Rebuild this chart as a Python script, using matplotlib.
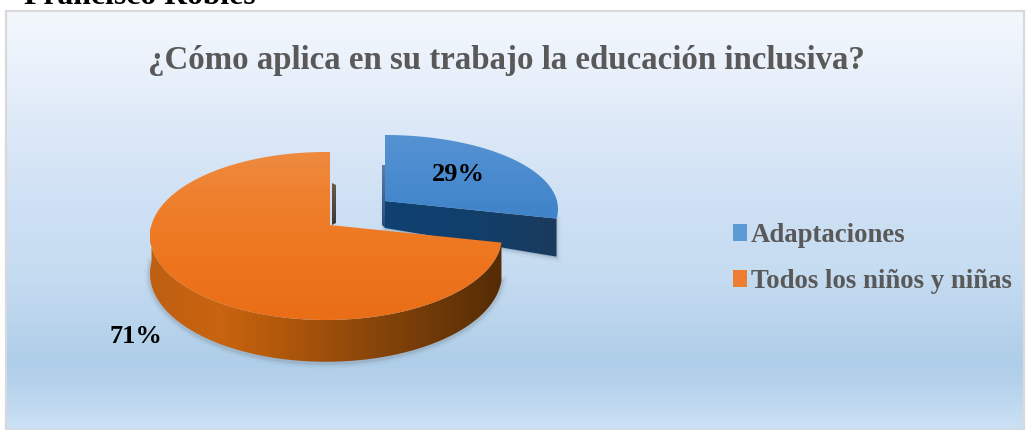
import numpy as np
import matplotlib
matplotlib.use("Agg")
import matplotlib.pyplot as plt
from matplotlib.colors import LinearSegmentedColormap as LSC
from matplotlib.patches import PathPatch, Patch, Rectangle
from matplotlib.path import Path

categories = ["Adaptaciones", "Todos los niños y niñas"]
shares = [29, 71]
title = "¿Cómo aplica en su trabajo la educación inclusiva?"
header = "Francisco Robles"

SERIF = "Liberation Serif"
W, H = 1027, 430
fig = plt.figure(figsize=(W / 100, H / 100), dpi=100, facecolor="white")
ax = fig.add_axes([0, 0, 1, 1])
ax.set_axis_off()


def grad(path, colors, vertical=True, z=2, bounds=None):
    x0, y0 = path.vertices.min(axis=0)
    x1, y1 = path.vertices.max(axis=0)
    if bounds is not None:
        y0, y1 = bounds
    data = np.linspace(0, 1, 256)
    data = data[:, None] if vertical else data[None, :]
    cmap = LSC.from_list("g", colors)
    im = ax.imshow(data, cmap=cmap, extent=(x0, x1, y1, y0), aspect="auto",
                   zorder=z, interpolation="bilinear", vmin=0, vmax=1)
    p = PathPatch(path, fc="none", ec="none", transform=ax.transData)
    ax.add_patch(p)
    im.set_clip_path(p)
    return im


def rim(theta, apex, off, rx, ry, k=0.4, xoff=0.0):
    """Point where the ray at angle theta (clockwise from the top) meets the tilted rim."""
    dx, dy = np.sin(theta), -k * np.cos(theta)
    a = (dx / rx) ** 2 + (dy / ry) ** 2
    b = -2 * dy * off / ry ** 2 - 2 * dx * xoff / rx ** 2
    c = (off / ry) ** 2 + (xoff / rx) ** 2 - 1
    t = (-b + np.sqrt(b * b - 4 * a * c)) / (2 * a)
    return np.array([apex[0] + t * dx, apex[1] + t * dy])


def arc(t0, t1, apex, off, rx, ry, xoff=0.0, n=160):
    return np.array([rim(t, apex, off, rx, ry, xoff=xoff) for t in np.linspace(t0, t1, n)])


def closed(pts):
    return Path(np.vstack([pts, pts[:1]]), closed=True)


# panel background
box = Rectangle((6, 11), 1018, 419, fc="none", ec="#D9D9D9", lw=1.6, zorder=5)
panel = Path([(6, 11), (1024, 11), (1024, 430), (6, 430), (6, 11)], closed=True)
bg = np.array([0, .08, .25, .45, .62, .84, .89, 1.0])
bg_c = ["#F4F8FD", "#EEF4FC", "#DFEAF8", "#CFE1F4", "#C6DCF1", "#AFCEE9", "#B5D2EC", "#CCE1F5"]
grad(panel, list(zip(bg, bg_c)), z=1)
ax.add_patch(box)

fracs = np.cumsum([0] + shares) / sum(shares) * 2 * np.pi
blue_t = (fracs[0], fracs[1])
or_t = (fracs[1], fracs[2])

# exploded blue slice
ab = np.array([385.0, 201.0])
bt = arc(*blue_t, ab, 8, 173, 74)
bface = np.vstack([ab, bt])
corner = bt[-1]
d = np.array([27.0, 38.0])
side = np.array([ab, corner, corner + [0, d[1]], ab + [0, d[0]]])
for lw, al in [(7, .03), (4, .05), (2, .08)]:
    ax.add_patch(PathPatch(closed(side + [0, 1]), fc="#33475B", ec="#33475B", lw=lw, alpha=al, zorder=2.5))
grad(closed(side), ["#0F4170", "#123F6C", "#1A3A5C"], vertical=False, z=3)
lip = np.array([ab + [-3, -36], ab + [0, -36], ab + [0, 27], ab + [-3, 24]])
grad(closed(lip), ["#5C7FA6", "#244B78"], z=2.9)
grad(closed(bface), ["#5592D2", "#4A8BCF", "#3F83C8"], z=4)

# large orange slice
ao = np.array([330.0, 225.0])
okw = dict(off=11, rx=176, ry=84, xoff=-4)
ot = arc(*or_t, ao, **okw)
oface = np.vstack([ao, ot])
front = arc(or_t[0], 1.5 * np.pi, ao, **okw)
depth = 37 + 0.05 * (front[:, 1] - ao[1])
low = front + np.c_[np.zeros(len(front)), depth]
oside = np.vstack([front, low[::-1]])
for lw, al in [(8, .03), (5, .05), (3, .09)]:
    ax.add_patch(PathPatch(closed(low + [0, 1]), fc="none", ec="#3A3A3A", lw=lw, alpha=al, zorder=5.5))
grad(closed(oside), ["#BE5F12", "#C9640F", "#AD560B", "#8E480A", "#703A08", "#552C06"],
     vertical=False, z=6)
slv = np.array([ao + [2, -42], ao + [6, -40], ao + [6, -2], ao + [2, 0]])
grad(closed(slv), ["#6B5A4A", "#3A3A36"], z=6.2)
grad(closed(oface), ["#EE8A40", "#EF7E2A", "#EE751E", "#E96E16"], z=7)

# texts
ax.text(24, 3.5, header, family=SERIF, weight="bold", fontsize=22.8, color="black", va="baseline", zorder=9)
ax.text(506.5, 60, title, family=SERIF, weight="bold", fontsize=23.66, color="#595959",
        ha="center", va="center", zorder=9)
ax.text(458, 174.5, f"{shares[0]}%", family=SERIF, weight="bold", fontsize=19, color="black",
        ha="center", va="center", zorder=9)
ax.text(136, 336.5, f"{shares[1]}%", family=SERIF, weight="bold", fontsize=19, color="black",
        ha="center", va="center", zorder=9)

handles = [Patch(fc="#5B9BD5", ec="none"), Patch(fc="#ED7D31", ec="none")]
leg = ax.legend(handles, categories, loc="center left", bbox_to_anchor=(733 / W, 1 - 258.5 / H),
                bbox_transform=fig.transFigure, frameon=False, borderpad=0, borderaxespad=0,
                handlelength=0.52, handleheight=0.6, handletextpad=0.15, labelspacing=0.8,
                prop={"family": SERIF, "weight": "bold", "size": 19.3})
leg.set_zorder(9)
for t in leg.get_texts():
    t.set_color("#595959")

ax.set_xlim(0, W)
ax.set_ylim(H, 0)
fig.savefig("out.png", dpi=100)
